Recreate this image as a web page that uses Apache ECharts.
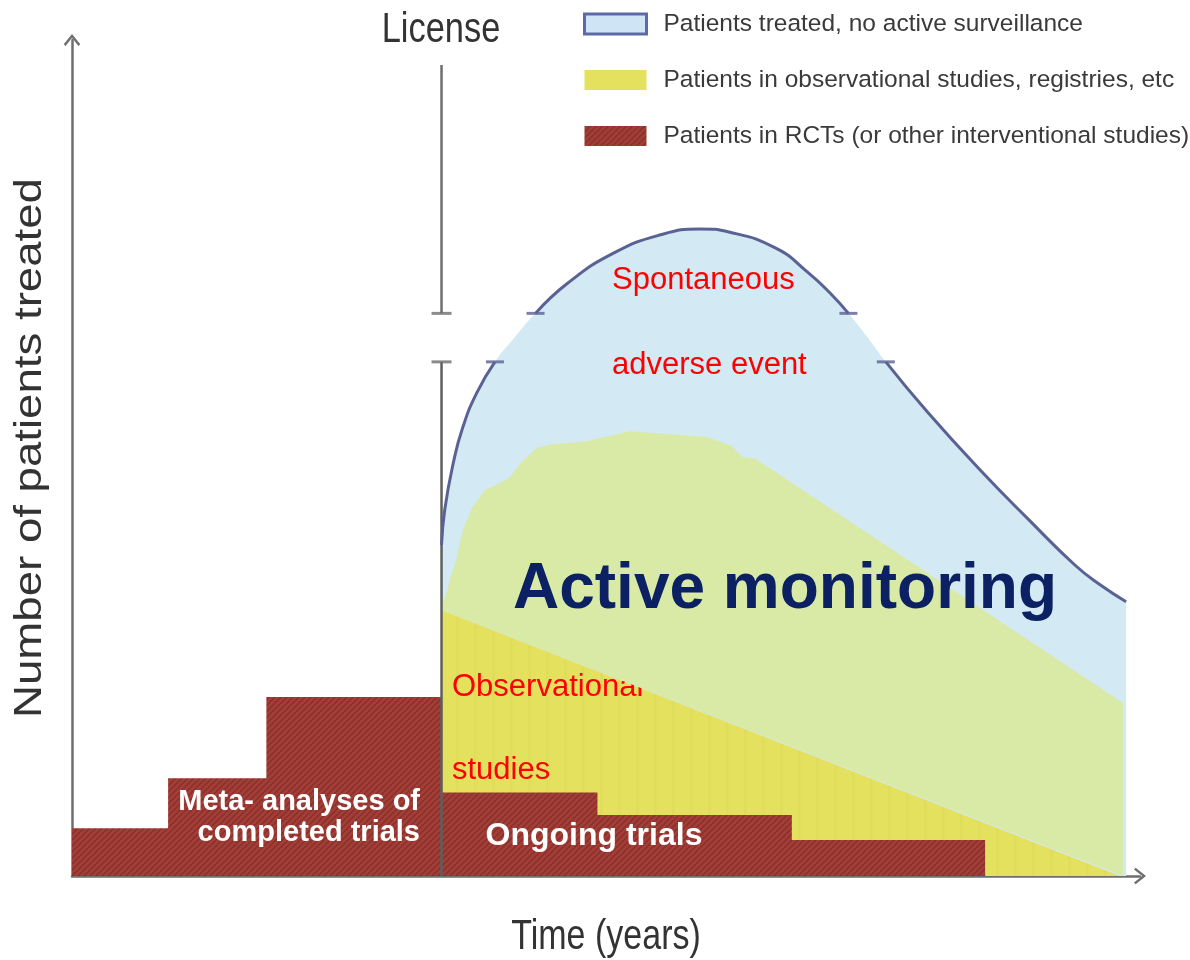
<!DOCTYPE html>
<html>
<head>
<meta charset="utf-8">
<script src="https://cdn.jsdelivr.net/npm/echarts/dist/echarts.min.js"></script>
<style>
html,body{margin:0;padding:0;background:#ffffff;}
#chart{width:1190px;height:960px;}
</style>
</head>
<body>
<div id="chart"></div>
<script>
// ---------------- DATA (conceptual units: time 0-100, patients 0-100) ----------------
const seriesNames = [
  'Patients treated, no active surveillance',
  'Patients in observational studies, registries, etc',
  'Patients in RCTs (or other interventional studies)'
];
const licenseTime = 34.6;
const licenseTop = 97.0;
const breakLow = 61.5;
const breakHigh = 67.3;

// all patients treated (outer curve)
const treatedCurve = [
  [34.6, 39.6], [34.9, 43.8], [35.7, 49.4], [36.6, 53.7], [37.9, 57.8], [39.6, 61.5],
  [41.5, 64.5], [43.4, 67.3], [46.4, 70.9], [50.7, 74.5], [55.1, 76.7], [58.8, 77.4],
  [61.6, 77.0], [65.9, 75.1], [68.9, 72.2], [71.0, 69.7], [72.7, 67.3], [74.5, 64.4],
  [76.2, 61.5], [80.1, 55.5], [85.3, 48.2], [89.6, 42.6], [93.9, 37.2], [96.3, 34.8],
  [98.7, 32.8]
];
// visible stroke segments of the outer curve (index ranges of treatedCurve)
const curveSegments = [[0, 5], [7, 16], [18, 24]];

// active monitoring (green) upper edge
const activeTop = [
  [34.6, 31.8], [34.8, 33.0], [35.1, 33.9], [35.5, 36.0], [35.9, 37.4], [36.6, 41.4],
  [37.5, 44.1], [38.7, 46.2], [40.1, 47.0], [41.0, 47.7], [41.7, 48.9], [42.1, 49.5],
  [43.5, 51.2], [44.8, 51.6], [48.2, 52.0], [52.2, 53.2], [59.5, 52.5], [61.8, 51.4],
  [62.8, 50.1], [64.0, 49.9], [98.4, 20.7], [98.4, 0.0]
];
// observational studies (yellow) upper edge
const observational = [[34.6, 31.8], [98.1, 0.0]];

// RCT steps
const rctEdges = [0, 9.0, 18.2, 34.6, 49.2, 67.4, 85.5];
const rctHeights = [5.7, 11.7, 21.4, 10.0, 7.3, 4.3];

// ---------------- BUILD ----------------
const rctSteps = [];
for (let i = 0; i < rctHeights.length; i++) {
  rctSteps.push([rctEdges[i], rctHeights[i]]);
  rctSteps.push([rctEdges[i + 1], rctHeights[i]]);
}
rctSteps.push([rctEdges[rctEdges.length - 1], 0]);

const greenPoly = activeTop.concat([observational[0]]);

function makeHatch() {
  const c = document.createElement('canvas');
  c.width = 6; c.height = 6;
  const g = c.getContext('2d');
  g.fillStyle = '#a23e37'; g.fillRect(0, 0, 6, 6);
  g.strokeStyle = '#873029'; g.lineWidth = 1.3;
  g.beginPath();
  g.moveTo(0, 6); g.lineTo(6, 0);
  g.moveTo(-3, 3); g.lineTo(3, -3);
  g.moveTo(3, 9); g.lineTo(9, 3);
  g.stroke();
  return c;
}
function makeYellow() {
  const c = document.createElement('canvas');
  c.width = 36; c.height = 4;
  const g = c.getContext('2d');
  g.fillStyle = '#e4e15e'; g.fillRect(0, 0, 36, 4);
  g.fillStyle = 'rgba(190,185,60,0.09)';
  g.fillRect(6, 0, 2, 4); g.fillRect(9, 0, 1, 4); g.fillRect(24, 0, 3, 4);
  return c;
}
const hatch = { image: makeHatch(), repeat: 'repeat' };
const yellowFill = { image: makeYellow(), repeat: 'repeat' };

const BLUE_FILL = '#d3e9f3';
const BLUE_LINE = '#5a6294';
const GREEN = '#d8eaa6';
const AXIS = '#6e6e6e';
const chevronUp = 'path://M0,10 L8,0 L16,10 L14.2,11.6 L8,3.6 L1.8,11.6 Z';

const curveLineSeries = curveSegments.map(function (s) {
  return {
    type: 'line', data: treatedCurve.slice(s[0], s[1] + 1), smooth: true,
    symbol: 'none', z: 6, silent: true,
    lineStyle: { color: BLUE_LINE, width: 3 }
  };
});
const blueTicks = [[39.6, breakLow], [43.4, breakHigh], [72.7, breakHigh], [76.2, breakLow]];
const licenseTicks = [[licenseTime, breakHigh], [licenseTime, breakLow]];

const sans = '"Liberation Sans", Arial, sans-serif';

const chart = echarts.init(document.getElementById('chart'));
chart.setOption({
  animation: false,
  backgroundColor: '#ffffff',
  grid: { left: 72, right: 50, top: 40, bottom: 84 },
  xAxis: {
    type: 'value', min: 0, max: 100,
    axisLine: { show: true, lineStyle: { color: AXIS, width: 2.5 }, symbol: ['none', chevronUp], symbolSize: [22, 12] },
    axisTick: { show: false }, axisLabel: { show: false }, splitLine: { show: false }
  },
  yAxis: {
    type: 'value', min: 0, max: 100,
    axisLine: { show: true, lineStyle: { color: AXIS, width: 2.5 }, symbol: ['none', chevronUp], symbolSize: [22, 12] },
    axisTick: { show: false }, axisLabel: { show: false }, splitLine: { show: false }
  },
  legend: {
    orient: 'vertical', left: 583, top: 8, padding: 0,
    itemWidth: 62, itemHeight: 20, itemGap: 24, icon: 'rect', selectedMode: false,
    textStyle: { fontFamily: sans, fontSize: 24.5, color: '#3a3a3a', lineHeight: 32, padding: [0, 0, 0, 12] },
    data: [
      { name: seriesNames[0], itemStyle: { color: '#cfe5f6', borderColor: '#5e6aa6', borderWidth: 3 } },
      { name: seriesNames[1], itemStyle: { color: '#e4e15e', borderWidth: 0 } },
      { name: seriesNames[2], itemStyle: { color: hatch, borderWidth: 0 } }
    ]
  },
  series: [
    {
      name: seriesNames[0], type: 'line', data: treatedCurve, smooth: true, symbol: 'none', z: 1, silent: true,
      itemStyle: { color: BLUE_FILL },
      lineStyle: { width: 0, opacity: 0 }, areaStyle: { color: BLUE_FILL, opacity: 1 }
    },
    {
      name: seriesNames[1], type: 'line', data: observational, symbol: 'none', z: 2, silent: true,
      itemStyle: { color: '#e4e15e' },
      lineStyle: { width: 0, opacity: 0 }, areaStyle: { color: yellowFill, opacity: 1 }
    },
    {
      type: 'custom', z: 4, silent: true, data: greenPoly,
      renderItem: function (params, api) {
        if (params.dataIndex !== 0) return null;
        return {
          type: 'polygon',
          shape: { points: greenPoly.map(function (p) { return api.coord(p); }) },
          style: { fill: GREEN }
        };
      }
    },
    {
      name: seriesNames[2], type: 'line', data: rctSteps, symbol: 'none', z: 5, silent: true,
      itemStyle: { color: '#a23e37' },
      lineStyle: { width: 0, opacity: 0 }, areaStyle: { color: hatch, opacity: 1 }
    },
    {
      type: 'line', data: [[licenseTime, licenseTop], [licenseTime, breakHigh]], symbol: 'none', z: 6, silent: true,
      lineStyle: { color: AXIS, width: 2.5 }
    },
    {
      type: 'line', data: [[licenseTime, breakLow], [licenseTime, 0]], symbol: 'none', z: 6, silent: true,
      lineStyle: { color: '#5f5f5f', width: 2.5 }
    }
  ].concat(curveLineSeries).concat([
    {
      type: 'scatter', data: blueTicks, symbol: 'rect', symbolSize: [18, 3], z: 7, silent: true,
      itemStyle: { color: BLUE_LINE }
    },
    {
      type: 'scatter', data: licenseTicks, symbol: 'rect', symbolSize: [20, 3], z: 7, silent: true,
      itemStyle: { color: AXIS }
    }
  ]),
  graphic: [
    { type: 'text', x: 441, y: 30, z: 10, scaleX: 0.82, style: { text: 'License', font: '42px ' + sans, fill: '#333', align: 'center', verticalAlign: 'middle' } },
    { type: 'text', x: 606, y: 937, z: 10, scaleX: 0.81, style: { text: 'Time (years)', font: '42px ' + sans, fill: '#333', align: 'center', verticalAlign: 'middle' } },
    { type: 'text', x: 31, y: 448, z: 10, rotation: Math.PI / 2, scaleX: 1.2, style: { text: 'Number of patients treated', font: '38px ' + sans, fill: '#333', align: 'center', verticalAlign: 'middle' } },
    { type: 'text', x: 612, y: 280, z: 10, style: { text: 'Spontaneous', font: '31px ' + sans, fill: '#ff0000', align: 'left', verticalAlign: 'middle' } },
    { type: 'text', x: 612, y: 365, z: 10, style: { text: 'adverse event', font: '31px ' + sans, fill: '#ff0000', align: 'left', verticalAlign: 'middle' } },
    { type: 'text', x: 452, y: 687, z: 3, style: { text: 'Observational', font: '31px ' + sans, fill: '#ff0000', align: 'left', verticalAlign: 'middle' } },
    { type: 'text', x: 452, y: 770, z: 3, style: { text: 'studies', font: '31px ' + sans, fill: '#ff0000', align: 'left', verticalAlign: 'middle' } },
    { type: 'text', x: 785, y: 590, z: 10, style: { text: 'Active monitoring', font: 'bold 64px ' + sans, fill: '#0b2163', align: 'center', verticalAlign: 'middle' } },
    { type: 'text', x: 420, y: 802, z: 10, style: { text: 'Meta- analyses of', font: 'bold 29px ' + sans, fill: '#ffffff', align: 'right', verticalAlign: 'middle' } },
    { type: 'text', x: 420, y: 833, z: 10, style: { text: 'completed trials', font: 'bold 29px ' + sans, fill: '#ffffff', align: 'right', verticalAlign: 'middle' } },
    { type: 'text', x: 594, y: 836, z: 10, style: { text: 'Ongoing trials', font: 'bold 32px ' + sans, fill: '#ffffff', align: 'center', verticalAlign: 'middle' } }
  ]
});
</script>
</body>
</html>
